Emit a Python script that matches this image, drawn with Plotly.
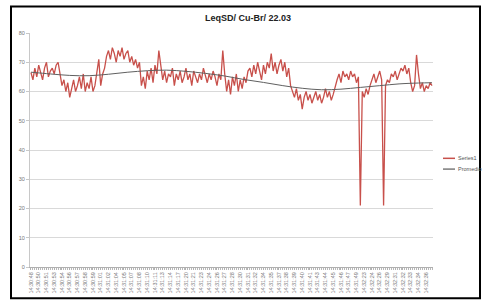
import plotly.graph_objects as go

title_text = "LeqSD/ Cu-Br/ 22.03"

series1 = [
    66.5, 64, 68, 65, 69, 66, 64, 68, 70, 65,
    67, 68, 66, 69, 70,
    66, 62, 64, 60, 63, 58, 61,
    64, 60, 62, 65, 61, 66, 60, 63, 61, 65, 60, 62,
    66, 71, 62, 66,
    68, 72, 74, 71, 75, 73, 70, 74, 72, 75, 71, 73, 74, 70, 72, 69, 71, 68, 70,
    62, 65, 61,
    67, 64, 68, 63, 69, 66, 74, 68,
    64, 67, 63, 66, 65, 68, 62, 66, 64, 67, 63, 65, 68, 64, 66, 62, 67, 65, 63, 66,
    64, 68, 65, 63, 66, 64, 67, 65, 62, 66, 64,
    74, 66,
    60, 64, 59, 65, 62, 66, 60, 64, 61, 65, 63, 67,
    68, 65, 69, 66, 70, 67, 64, 69, 66, 70, 68, 73, 67, 70, 66, 69, 71, 67, 70, 65, 68,
    62, 60, 58, 61, 57, 59, 54, 58, 60, 57,
    59, 56, 58, 60, 57, 59, 56, 58, 61, 58, 60, 57, 59, 62,
    64, 66, 63, 67, 65, 66, 64, 67, 65, 66, 63, 65,
    21,
    60, 58, 61, 59, 62,
    64, 66, 63, 65, 67, 64,
    21,
    62, 64, 63, 66, 65, 67, 64, 66, 68, 67, 69, 66, 68,
    63, 60, 62,
    72.5, 66,
    61, 63, 60, 62, 61, 63, 62,
]

promedio_idx = [0, 10, 20, 30, 40, 50, 60, 70, 80, 90, 100, 110, 120, 130, 140, 150, 160, 170, 180, 190, 200, 207]
promedio_val = [66.6, 66.0, 65.5, 65.4, 65.9, 66.6, 67.1, 67.3, 66.9, 66.2, 65.3, 64.1, 63.1, 62.0, 61.1, 60.6, 60.8, 61.4, 62.0, 62.6, 62.9, 63.0]

series_names = ["Series1", "Promedio"]
series_colors = ["#C8504B", "#7a7a7a"]

time_labels = [
    "14:30:48", "14:30:50", "14:30:51", "14:30:53", "14:30:54", "14:30:56", "14:30:57", "14:30:58",
    "14:30:59", "14:31:01", "14:31:02", "14:31:04", "14:31:05", "14:31:07", "14:31:08", "14:31:10",
    "14:31:11", "14:31:13", "14:31:14", "14:31:17", "14:31:20", "14:31:21", "14:31:23", "14:31:24",
    "14:31:26", "14:31:27", "14:31:28", "14:31:30", "14:31:31", "14:31:32", "14:31:34", "14:31:35",
    "14:31:37", "14:31:38", "14:31:39", "14:31:40", "14:31:41", "14:31:43", "14:31:44", "14:31:45",
    "14:31:46", "14:31:47", "14:31:49", "14:32:23", "14:32:24", "14:32:26", "14:32:29", "14:32:31",
    "14:32:32", "14:32:33", "14:32:34", "14:32:36",
]

n = len(series1)
x_idx = list(range(n))
step = 4
tick_vals = [i * step for i in range(len(time_labels))]

FONT = "Liberation Sans"

fig = go.Figure()
fig.add_trace(go.Scatter(
    x=x_idx, y=series1, mode="lines", name=series_names[0],
    line=dict(color=series_colors[0], width=1.3),
))
fig.add_trace(go.Scatter(
    x=promedio_idx, y=promedio_val, mode="lines", name=series_names[1],
    line=dict(color="#606060", width=1, shape="spline"),
))

W, H = 483, 306
L, R, T, B = 30, 50, 33, 34
pw = W - L - R
ph = H - T - B

def px_x(p):
    return (p - L) / pw

def px_y(p):
    return (H - B - p) / ph

shapes = [dict(
    type="rect", xref="paper", yref="paper",
    x0=px_x(11), x1=px_x(480), y0=px_y(304), y1=px_y(6),
    line=dict(color="black", width=2), fillcolor="rgba(0,0,0,0)", layer="above",
)]
annotations = []
legend_rows = [161, 172]
for name, color, row in zip(series_names, series_colors, legend_rows):
    shapes.append(dict(type="line", xref="paper", yref="paper",
                       x0=px_x(443), x1=px_x(455), y0=px_y(row), y1=px_y(row),
                       line=dict(color=color, width=1.5)))
    annotations.append(dict(text=name, xref="paper", yref="paper",
                            x=px_x(456), y=px_y(row), xanchor="left", yanchor="middle",
                            showarrow=False, font=dict(size=5.5, color="#555555")))

fig.update_layout(
    width=W, height=H,
    margin=dict(l=L, r=R, t=T, b=B, pad=0),
    paper_bgcolor="white", plot_bgcolor="white",
    font=dict(family=FONT, color="#555555", size=6),
    title=dict(text=title_text, xref="container", yref="container",
               x=248 / W, y=1 - 18 / H, xanchor="center", yanchor="middle",
               font=dict(family=FONT, size=9, color="#222222", weight="bold")),
    showlegend=False,
    xaxis=dict(
        range=[-0.5, n - 0.5],
        tickmode="array", tickvals=tick_vals, ticktext=time_labels,
        tickangle=-90, tickfont=dict(size=5.5, color="#777777"),
        showgrid=False, zeroline=False,
        showline=True, linecolor="#b0b0b0", linewidth=1,
        ticks="outside", ticklen=2, tickcolor="#b0b0b0",
        minor=dict(dtick=1, tick0=0, ticks="outside", ticklen=2, tickcolor="#b8b8b8"),
        fixedrange=True,
    ),
    yaxis=dict(
        range=[0, 80], dtick=10, tick0=0,
        showgrid=True, gridcolor="#d9d9d9", gridwidth=1,
        zeroline=False,
        showline=True, linecolor="#c8c8c8", linewidth=1,
        ticks="outside", ticklen=3, tickcolor="#c8c8c8",
        tickfont=dict(size=5.5, color="#777777"),
        fixedrange=True,
    ),
    shapes=shapes,
    annotations=annotations,
)

fig.write_html(
    "out.html",
    config={"displayModeBar": False},
    post_script="document.body.style.margin='0px';document.body.style.overflow='hidden';",
)
